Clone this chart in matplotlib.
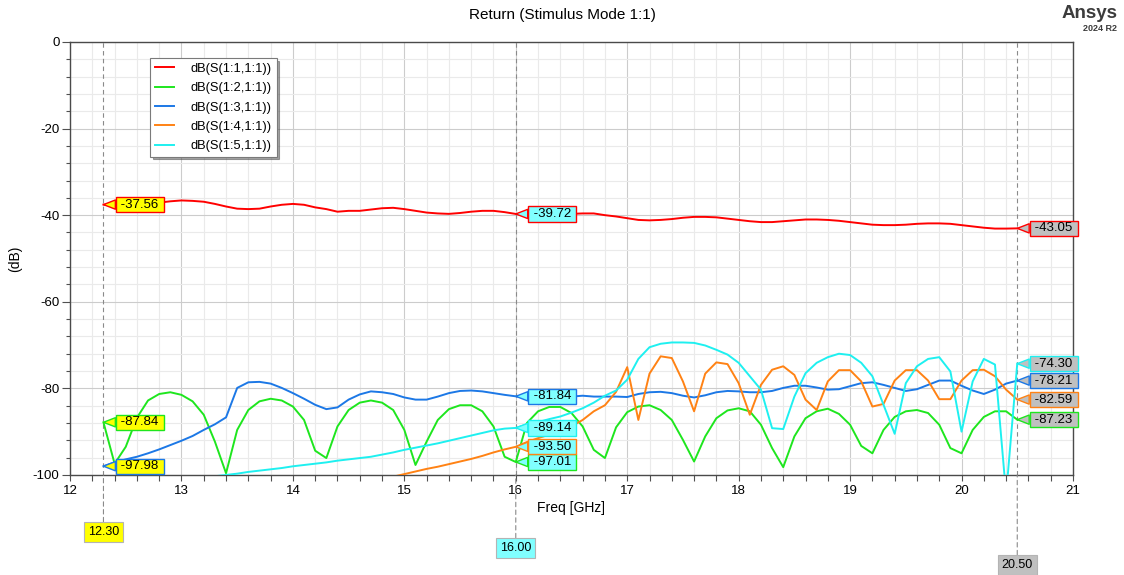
import numpy as np
import matplotlib.pyplot as plt
from matplotlib.ticker import MultipleLocator

plt.rcParams['font.family'] = ['Liberation Sans', 'DejaVu Sans']
plt.rcParams['axes.unicode_minus'] = False

# sweep 12.3 .. 20.5 GHz, 0.1 GHz step
freq = np.round(np.linspace(12.3, 20.5, 83), 2)
nan = np.nan

s11 = [-37.56, -37.9, -38.2, -37.9, -37.5, -37.1, -36.8, -36.6, -36.7, -36.9,
       -37.4, -38.0, -38.5, -38.6, -38.5, -38.0, -37.6, -37.4, -37.6, -38.2,
       -38.6, -39.2, -39.0, -39.0, -38.7, -38.4, -38.3, -38.6, -39.0, -39.4,
       -39.6, -39.7, -39.5, -39.2, -39.0, -39.0, -39.3, -39.72, -39.9, -40.0,
       -40.0, -39.9, -39.7, -39.6, -39.6, -40.0, -40.3, -40.7, -41.1, -41.2,
       -41.1, -40.9, -40.6, -40.4, -40.4, -40.5, -40.8, -41.1, -41.4, -41.6,
       -41.6, -41.4, -41.2, -41.0, -41.0, -41.1, -41.3, -41.6, -41.9, -42.2,
       -42.3, -42.3, -42.2, -42.0, -41.9, -41.9, -42.0, -42.3, -42.6, -42.9,
       -43.1, -43.1, -43.05]

s21 = [-87.84, -97.4, -93.5, -86.8, -82.8, -81.3, -80.9, -81.5, -83.0, -86.1,
       -92.3, -99.6, -89.6, -85.0, -83.0, -82.4, -82.8, -84.2, -87.3, -94.4,
       -96.1, -88.8, -85.0, -83.3, -82.8, -83.3, -85.0, -89.6, -97.7, -92.3,
       -87.3, -84.8, -83.9, -83.9, -85.3, -88.8, -95.8, -97.01, -88.0, -85.3,
       -84.3, -84.3, -85.7, -88.8, -94.2, -96.1, -89.0, -85.5, -84.2, -83.9,
       -85.0, -87.3, -91.9, -96.9, -91.1, -86.9, -85.1, -84.6, -85.3, -88.4,
       -93.8, -98.2, -91.1, -86.9, -85.3, -84.7, -85.9, -88.4, -93.3, -95.0,
       -89.6, -86.6, -85.3, -85.0, -85.7, -88.4, -93.8, -95.0, -89.6, -86.6,
       -85.3, -85.3, -87.23]

s31 = [-97.98, -97.1, -96.4, -95.8, -95.0, -94.1, -93.1, -92.1, -91.0, -89.6,
       -88.3, -86.7, -79.9, -78.6, -78.5, -78.9, -79.9, -81.1, -82.4, -83.8,
       -84.8, -84.4, -82.6, -81.4, -80.7, -80.9, -81.3, -82.1, -82.6, -82.6,
       -81.9, -81.1, -80.6, -80.5, -80.7, -81.1, -81.5, -81.84, -82.0, -82.1,
       -82.1, -82.0, -81.9, -81.7, -81.9, -81.9, -81.9, -82.0, -81.3, -80.9,
       -80.8, -81.1, -81.7, -82.1, -81.6, -80.9, -80.6, -80.7, -80.9, -80.9,
       -80.6, -79.9, -79.4, -79.4, -79.8, -80.3, -80.2, -79.5, -78.8, -78.6,
       -79.2, -79.9, -80.6, -80.2, -79.2, -78.2, -78.2, -79.4, -80.5, -81.3,
       -80.3, -78.9, -78.21]

s41 = [nan, nan, nan, nan, nan, nan, nan, nan, nan, nan,
       nan, nan, nan, nan, nan, nan, nan, nan, nan, nan,
       nan, nan, nan, nan, nan, nan, -100.4, -99.8, -99.2, -98.6,
       -98.1, -97.5, -96.9, -96.3, -95.6, -94.8, -94.1, -93.50, -92.4, -91.5,
       -90.7, -90.0, -88.8, -87.3, -85.3, -83.9, -80.8, -75.1, -87.3, -76.6,
       -72.6, -73.0, -78.4, -85.3, -76.6, -74.0, -74.4, -78.8, -86.1, -79.2,
       -75.7, -74.9, -76.9, -82.6, -85.0, -78.4, -75.8, -75.8, -78.4, -84.2,
       -83.6, -78.2, -75.8, -75.8, -78.2, -82.5, -82.5, -78.2, -75.8, -75.7,
       -77.2, -80.3, -82.59]

s51 = [nan, nan, nan, nan, nan, nan, nan, nan, nan, nan,
       -100.3, -100.0, -99.7, -99.3, -99.0, -98.7, -98.4, -98.0, -97.7, -97.4,
       -97.1, -96.7, -96.4, -96.1, -95.8, -95.3, -94.8, -94.2, -93.7, -93.2,
       -92.7, -92.1, -91.5, -90.9, -90.3, -89.7, -89.3, -89.14, -88.3, -87.8,
       -87.1, -86.5, -85.6, -84.6, -83.3, -81.7, -80.5, -78.0, -73.2, -70.5,
       -69.7, -69.4, -69.4, -69.5, -70.1, -71.1, -72.2, -74.1, -77.2, -80.3,
       -89.2, -89.4, -81.9, -76.5, -74.1, -72.8, -72.0, -72.3, -74.1, -77.2,
       -83.8, -90.5, -78.8, -74.9, -73.2, -72.8, -76.1, -90.0, -78.4, -73.2,
       -74.5, -104.5, -74.30]

names = ['dB(S(1:1,1:1))', 'dB(S(1:2,1:1))', 'dB(S(1:3,1:1))',
         'dB(S(1:4,1:1))', 'dB(S(1:5,1:1))']
traces = [s11, s21, s31, s41, s51]
colors = ['#ff0000', '#1ee61e', '#1c78e6', '#ff8214', '#1ef0f0']

marker_freqs = [12.30, 16.00, 20.50]
marker_fills = ['#ffff00', '#80ffff', '#c0c0c0']

fig = plt.figure(figsize=(11.24, 5.75), dpi=100)
ax = fig.add_axes([0.0623, 0.174, 0.8923, 0.753])

for y, c, n in zip(traces, colors, names):
    ax.plot(freq, y, color=c, lw=1.4, label=n, zorder=3)

ax.set_xlim(12, 21)
ax.set_ylim(-100, 0)
ax.xaxis.set_major_locator(MultipleLocator(1))
ax.xaxis.set_minor_locator(MultipleLocator(0.2))
ax.yaxis.set_major_locator(MultipleLocator(20))
ax.yaxis.set_minor_locator(MultipleLocator(4))
ax.grid(which='major', color='#cccccc', lw=0.8)
ax.grid(which='minor', color='#eaeaea', lw=0.8)
ax.set_axisbelow(True)
ax.tick_params(axis='x', which='both', direction='out', length=4, width=0.8,
               color='#505050', labelsize=9.5, pad=3)
ax.tick_params(axis='y', which='major', direction='out', length=5.5, width=0.8,
               color='#505050', labelsize=9.5, pad=2)
ax.tick_params(axis='y', which='minor', direction='out', length=3, width=0.8,
               color='#505050')
for sp in ax.spines.values():
    sp.set_color('#4a4a4a')
    sp.set_linewidth(1.0)

ax.set_xlabel('Freq [GHz]', fontsize=10, labelpad=3)
ax.set_ylabel('(dB)', fontsize=10, labelpad=8)
fig.text(0.5, 0.974, 'Return (Stimulus Mode 1:1)', ha='center', va='center',
         fontsize=11)
fig.text(0.994, 0.976, 'Ansys', ha='right', va='center', fontsize=13.5,
         weight='bold', color='#3c3c3c')
fig.text(0.994, 0.950, '2024 R2', ha='right', va='center', fontsize=6.5,
         weight='bold', color='#3c3c3c')

leg = ax.legend(loc='upper left', bbox_to_anchor=(0.08, 0.962), fontsize=9.3,
                frameon=True, fancybox=False, shadow=True, borderpad=0.35,
                labelspacing=0.56, handlelength=1.5, handletextpad=1.3,
                borderaxespad=0)
leg.get_frame().set_edgecolor('#7a7a7a')
leg.get_frame().set_linewidth(0.8)
leg.set_zorder(7)

# markers: dashed line, x label below the axis, value tags on each trace
label_drop = [57, 73, 90]
for f, fill, drop in zip(marker_freqs, marker_fills, label_drop):
    ax.axvline(f, color='#8a8a8a', ls=(0, (4, 3)), lw=0.8, zorder=2)
    ax.annotate(f'{f:.2f}', xy=(f, 0), xycoords=('data', 'axes fraction'),
                xytext=(0, -drop), textcoords='offset pixels',
                ha='center', va='center', fontsize=9, annotation_clip=False,
                bbox=dict(boxstyle='square,pad=0.3', fc=fill, ec='#b4b4b4', lw=0.8),
                arrowprops=dict(arrowstyle='-', color='#8a8a8a', lw=0.8,
                                ls=(0, (4, 3)), shrinkA=0, shrinkB=0))
    i = int(np.argmin(np.abs(freq - f)))
    for y, c in zip(traces, colors):
        v = y[i]
        if np.isnan(v):
            continue
        ax.annotate(f' {v:.2f} ', xy=(f, v), xytext=(14, 0),
                    textcoords='offset pixels', ha='left', va='center',
                    fontsize=9.5, zorder=6, annotation_clip=False,
                    bbox=dict(boxstyle='square,pad=0.12', fc=fill, ec=c, lw=1),
                    arrowprops=dict(arrowstyle='wedge,tail_width=0.7,shrink_factor=0.5',
                                    fc=fill, ec=c, lw=1, shrinkA=0, shrinkB=0))

fig.savefig('out.png', dpi=100)
